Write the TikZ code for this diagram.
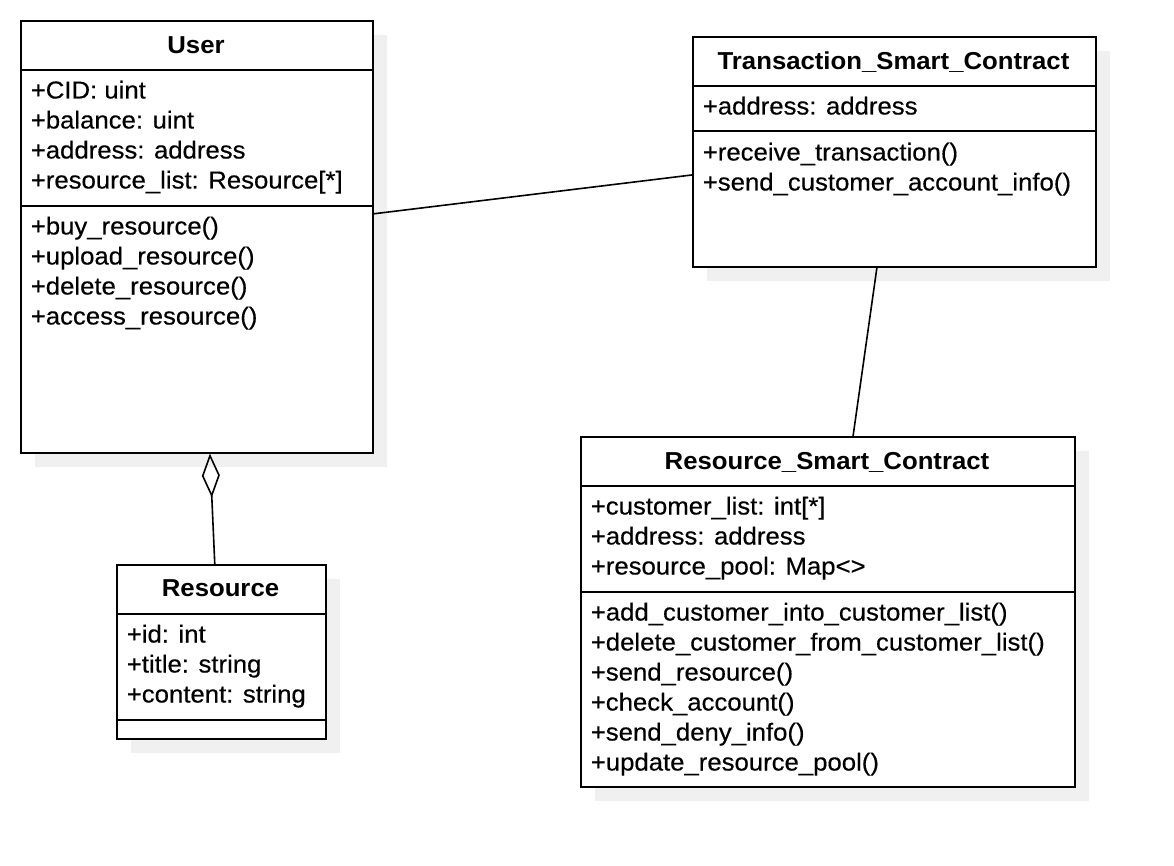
\documentclass[tikz,border=0pt]{standalone}
\usepackage{fontspec}
\setmainfont{Liberation Sans}[FakeStretch=1.05, UprightFeatures={FakeBold=0.4}]
\usetikzlibrary{arrows.meta,shadows,calc}

\begin{document}
\begin{tikzpicture}[x=1pt, y=-1pt, line width=1.6pt,
  font=\fontsize{24.5}{30}\selectfont,
  classbox/.style={draw=black, fill=white, inner sep=0pt, anchor=north west,
    drop shadow={shadow xshift=14pt, shadow yshift=-14pt, fill=black!6, draw=none, opacity=1}},
  member/.style={anchor=base west, inner sep=0pt},
  title/.style={anchor=base, inner sep=0pt, font=\fontsize{24.5}{30}\selectfont\bfseries}]
\useasboundingbox (0,0) rectangle (1174,866);
% class boxes
\node[classbox, minimum width=352, minimum height=432] (user) at (20,20) {};
\node[classbox, minimum width=403, minimum height=230] (trans) at (692,36) {};
\node[classbox, minimum width=209, minimum height=174] (res) at (116,564) {};
\node[classbox, minimum width=494, minimum height=350] (rsc) at (580,436) {};
% compartments
\draw (user.west |- 0,70) -- (user.east |- 0,70);
\draw (user.west |- 0,206) -- (user.east |- 0,206);
\draw (trans.west |- 0,86) -- (trans.east |- 0,86);
\draw (trans.west |- 0,131) -- (trans.east |- 0,131);
\draw (res.west |- 0,614) -- (res.east |- 0,614);
\draw (res.west |- 0,720) -- (res.east |- 0,720);
\draw (rsc.west |- 0,486) -- (rsc.east |- 0,486);
\draw (rsc.west |- 0,592) -- (rsc.east |- 0,592);
% titles
\node[title] (user-title) at (196,53.5) {User};
\node[title] (trans-title) at (893.5,69.5) {Transaction\_Smart\_Contract};
\node[title] (res-title) at (220.5,596.5) {Resource};
\node[title] (rsc-title) at (827,469.5) {Resource\_Smart\_Contract};
% members
\foreach \t [count=\i] in {+CID: uint, +balance: uint, +address: address, {+resource\_list: Resource[*]}}
  \node[member] (user-a\i) at (30,{98.5+30*(\i-1)}) {\t};
\foreach \t [count=\i] in {+buy\_resource(), +upload\_resource(), +delete\_resource(), +access\_resource()}
  \node[member] (user-m\i) at (30,{234.5+30*(\i-1)}) {\t};
\node[member] (trans-a1) at (702,114.5) {+address: address};
\foreach \t [count=\i] in {+receive\_transaction(), +send\_customer\_account\_info()}
  \node[member] (trans-m\i) at (702,{160.5+30*(\i-1)}) {\t};
\foreach \t [count=\i] in {+id: int, +title: string, +content: string}
  \node[member] (res-a\i) at (126,{642.5+30*(\i-1)}) {\t};
\foreach \t [count=\i] in {{+customer\_list: int[*]}, +address: address, +resource\_pool: Map<>}
  \node[member] (rsc-a\i) at (590,{514.5+30*(\i-1)}) {\t};
\foreach \t [count=\i] in {+add\_customer\_into\_customer\_list(), +delete\_customer\_from\_customer\_list(),
    +send\_resource(), +check\_account(), +send\_deny\_info(), +update\_resource\_pool()}
  \node[member] (rsc-m\i) at (590,{620.5+30*(\i-1)}) {\t};
% associations
\draw ($(user.north east)!0.447!(user.south east)$) -- ($(trans.north west)!0.6!(trans.south west)$);
\draw ($(trans.south west)!0.457!(trans.south east)$) -- ($(rsc.north west)!0.551!(rsc.north east)$);
\draw[-{Diamond[open, length=44pt, width=18pt]}]
  ($(res.north west)!0.469!(res.north east)$) -- ($(user.south west)!0.537!(user.south east)$);
\end{tikzpicture}
\end{document}
